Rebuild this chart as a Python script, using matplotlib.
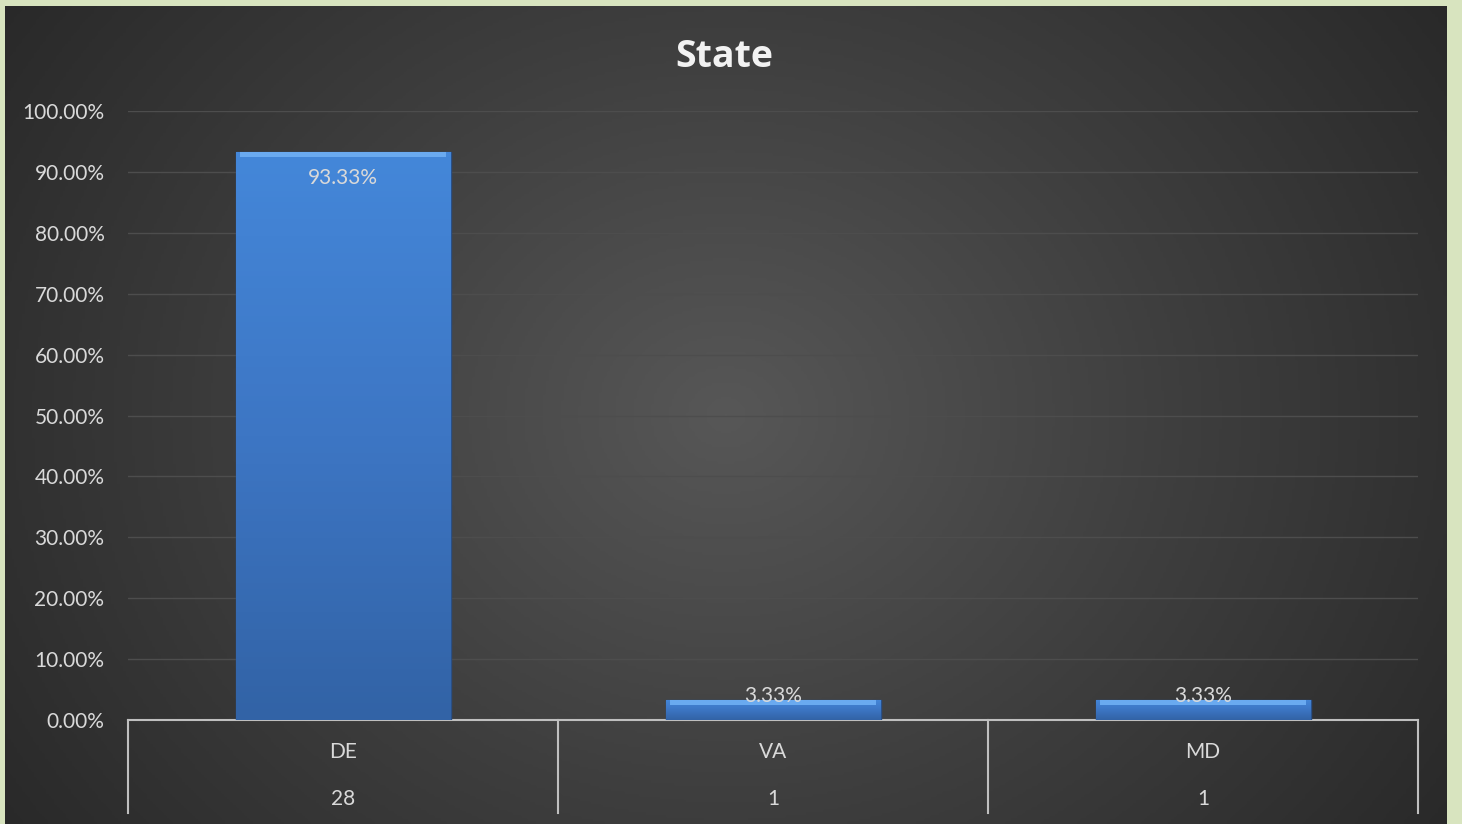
import numpy as np
import matplotlib.pyplot as plt
from matplotlib.colors import LinearSegmentedColormap
from matplotlib.ticker import FuncFormatter

states = ['DE', 'VA', 'MD']
counts = [28, 1, 1]
shares = [93.33, 3.33, 3.33]

plt.rcParams['font.family'] = ['Lato', 'DejaVu Sans']

W, H = 1462, 824
fig = plt.figure(figsize=(W / 100, H / 100), dpi=100)
fig.patch.set_facecolor('#d8e4bf')

# dark panel with radial gradient
bg = fig.add_axes([5 / W, 0, 1442 / W, 818 / H])
bg.set_axis_off()
yy, xx = np.mgrid[0:1:300j, 0:1:500j]
r = np.sqrt(((xx - 0.5) * 1.5) ** 2 + ((yy - 0.5) * 1.0) ** 2)
bg_cmap = LinearSegmentedColormap.from_list('bg', ['#575757', '#3e3e3e', '#272727'])
bg.imshow(r, cmap=bg_cmap, aspect='auto', extent=[0, 1, 0, 1], vmin=0, vmax=0.95)
bg.set_xlim(0, 1)
bg.set_ylim(0, 1)

ax = fig.add_axes([128 / W, (H - 720) / H, 1290 / W, 609 / H])
ax.patch.set_alpha(0)
x = np.arange(len(states))
ax.set_xlim(-0.5, len(states) - 0.5)
ax.set_ylim(0, 100)
ax.set_yticks(np.arange(0, 101, 10))
ax.yaxis.set_major_formatter(FuncFormatter(lambda v, p: '%.2f%%' % v))
ax.tick_params(axis='y', length=0, pad=17, labelsize=15, labelcolor='#d9d9d9')
ax.set_xticks([])
ax.grid(axis='y', color='#4d4d4d', lw=1)
ax.set_axisbelow(True)
for s in ['top', 'right', 'left']:
    ax.spines[s].set_visible(False)
ax.spines['bottom'].set_color('#bfbfbf')
ax.spines['bottom'].set_linewidth(1.5)

bar_cmap = LinearSegmentedColormap.from_list('bar', ['#3263a6', '#3d76c4', '#4487d9'])
bars = ax.bar(x, shares, width=0.5, color='#3d76c4', edgecolor='#2a4f85', lw=1, zorder=3)
for b in bars:
    x0, w, h = b.get_x(), b.get_width(), b.get_height()
    grad = np.linspace(0, 1, 100).reshape(-1, 1)
    im = ax.imshow(grad, cmap=bar_cmap, aspect='auto', origin='lower',
                   extent=[x0, x0 + w, 0, h], zorder=3.5)
    im.set_clip_path(b)
    # bevel top
    ax.fill_between([x0 + 0.01, x0 + w - 0.01], h - 0.9, h, color='#6aaaf0', zorder=4, lw=0)
ax.set_xlim(-0.5, len(states) - 0.5)
ax.set_ylim(0, 100)

for xi, v in zip(x, shares):
    if v > 50:
        ax.text(xi, v - 4.4, '%.2f%%' % v, ha='center', va='center', fontsize=15,
                color='#d9d9d9', zorder=5)
    else:
        ax.text(xi, v - 1.1, '%.2f%%' % v, ha='center', va='bottom', fontsize=15,
                color='#d9d9d9', zorder=5)

# table under the axis
for xi in np.arange(len(states) + 1) - 0.5:
    ax.plot([xi, xi], [0, -15.3], color='#bfbfbf', lw=1.5, clip_on=False, zorder=5)
for xi, s, c in zip(x, states, counts):
    ax.text(xi, -5.3, s, ha='center', va='center', fontsize=15, color='#d9d9d9')
    ax.text(xi, -13.0, str(c), ha='center', va='center', fontsize=15, color='#d9d9d9')

fig.text(724 / W, 1 - 57 / H, 'State', ha='center', va='center', fontsize=27,
         fontweight='bold', color='#f2f2f2', family=['Open Sans', 'DejaVu Sans'])

fig.savefig('out.png', dpi=100, facecolor=fig.get_facecolor())
